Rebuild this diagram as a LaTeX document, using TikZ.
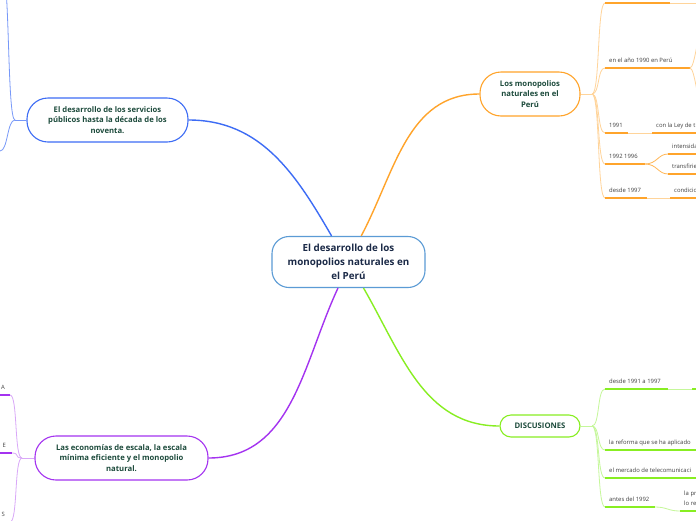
\documentclass[tikz,border=0pt]{standalone}
\usepackage{fontspec}
\setmainfont{Open Sans}
\usetikzlibrary{positioning}

\definecolor{rootline}{HTML}{5B9BD5}
\definecolor{roottext}{HTML}{1B2A47}
\definecolor{topictext}{HTML}{1D4B3C}
\definecolor{leaftext}{HTML}{404040}
\definecolor{bluelink}{HTML}{3D6CF5}
\definecolor{bluetwig}{HTML}{9DB5FA}
\definecolor{orangelink}{HTML}{FFA42B}
\definecolor{orangetwig}{HTML}{FFD49A}
\definecolor{greenlink}{HTML}{88EE22}
\definecolor{greentwig}{HTML}{C5F79A}
\definecolor{purplelink}{HTML}{A433F0}
\definecolor{purpletwig}{HTML}{D9A8F8}

\begin{document}
\begin{tikzpicture}[x=1pt,y=-1pt,
  topic/.style={draw,fill=white,line width=1.1pt,align=center,inner sep=0pt,
    text=topictext,font=\bfseries\fontsize{7.7}{10.8}\selectfont},
  leaf/.style={anchor=south west,inner xsep=4pt,inner ysep=4pt,text depth=1.2pt,
    align=left,text=leaftext,font=\fontsize{5.9}{10.5}\selectfont},
  link/.style={line width=1.4pt},
  twig/.style={line width=0.8pt},
  under/.style={line width=1.8pt}]

\useasboundingbox[fill=white] (0,0) rectangle (696,520);
\clip (0,0) rectangle (696,520);

% central topic
\node[topic,draw=rootline,text=roottext,font=\bfseries\fontsize{9.8}{14}\selectfont,
  minimum width=153pt,minimum height=51pt,rounded corners=17pt] (root) at (348.5,262)
  {El desarrollo de los\\monopolios naturales en\\el Perú};

% main topics
\node[topic,draw=bluelink,minimum width=161pt,minimum height=44pt,rounded corners=21pt]
  (serv) at (107.5,120) {El desarrollo de los servicios\\públicos hasta la década de los\\noventa.};
\node[topic,draw=orangelink,minimum width=100pt,minimum height=44pt,rounded corners=21pt]
  (mono) at (530,94) {Los monopolios\\naturales en el\\Perú};
\node[topic,draw=greenlink,minimum width=80pt,minimum height=22pt,rounded corners=11pt]
  (disc) at (540,426) {DISCUSIONES};
\node[topic,draw=purplelink,minimum width=173pt,minimum height=44pt,rounded corners=21pt]
  (econ) at (121.5,458) {Las economías de escala, la escala\\mínima eficiente y el monopolio\\natural.};

\draw[link,bluelink] (root.123) to[out=120,in=0] (serv.east);
\draw[link,orangelink] (root.64) to[out=62,in=180] (mono.west);
\draw[link,greenlink] (root.-60) to[out=-60,in=180] (disc.west);
\draw[link,purplelink] (root.-112) to[out=-115,in=0] (econ.east);

% blue branch
\coordinate (bhub) at (15,120);
\coordinate (bup) at (2,-30);
\coordinate (bdn) at (0,151);
\draw[twig,bluelink!70] (serv.west) -- (bhub);
\draw[twig,bluelink!70] (bhub) .. controls +(-8,0) and +(8,0) .. (bup);
\draw[twig,bluelink!70] (bhub) .. controls +(-8,0) and +(8,0) .. (bdn);

% orange branch
\coordinate (mhub) at (592,94);
\coordinate (oa) at (605,3);
\node[leaf] (ob) at (605,68) {en el año 1990 en Perú};
\node[leaf] (oc) at (605,133) {1991};
\node[leaf] (oc1) at (652,133) {con la Ley de t};
\node[leaf] (od) at (605,164) {1992 1996};
\node[leaf] (od1) at (668,154) {intensida};
\node[leaf] (od2) at (668,174) {transfirie};
\node[leaf] (oe) at (605,198) {desde 1997};
\node[leaf] (oe1) at (670,198) {condicio};
\coordinate (oa1) at (705,3);
\coordinate (ob1) at (703,28);
\coordinate (ob2) at (703,108);

\draw[twig,orangetwig] (mono.east) -- (mhub);
\foreach \c in {oa,ob.south west,oc.south west,od.south west,oe.south west}
  \draw[twig,orangetwig] (mhub) .. controls +(8,0) and +(-8,0) .. (\c);
\draw[under,orangelink] (oa) -- ++(65,0) coordinate (oae);
\draw[twig,orangetwig] (oae) -- (oa1);
\draw[under,orangelink] (ob.south west) -- ++(85,0) coordinate (obe);
\draw[twig,orangetwig] (obe) .. controls +(5,0) and +(-5,0) .. (ob1);
\draw[twig,orangetwig] (obe) .. controls +(5,0) and +(-5,0) .. (ob2);
\draw[under,orangelink] (oc.south west) -- ++(23,0) coordinate (oce);
\draw[twig,orangetwig] (oce) -- (oc1.south west);
\draw[under,orangelink] (oc1.south west) -- ++(60,0);
\draw[under,orangelink] (od.south west) -- ++(40,0) coordinate (ode);
\draw[twig,orangelink!80] (ode) .. controls +(12,0) and +(-10,0) .. (od1.south west);
\draw[twig,orangelink!80] (ode) .. controls +(12,0) and +(-10,0) .. (od2.south west);
\draw[under,orangelink] (od1.south west) -- ++(40,0);
\draw[under,orangelink] (od2.south west) -- ++(40,0);
\draw[under,orangelink] (oe.south west) -- ++(42,0) coordinate (oee);
\draw[twig,orangetwig] (oee) -- (oe1.south west);
\draw[under,orangelink] (oe1.south west) -- ++(50,0);

% green branch
\coordinate (ghub) at (592,426);
\node[leaf] (ga) at (605,389) {desde 1991 a 1997};
\coordinate (ga1) at (692,389);
\node[leaf] (gb) at (605,450) {la reforma que se ha aplicado};
\node[leaf] (gc) at (605,478) {el mercado de telecomunicaci};
\node[leaf] (gd) at (605,507) {antes del 1992};
\node[leaf] (gd1) at (680,511) {la pr\\lo re};

\draw[twig,greentwig] (disc.east) -- (ghub);
\foreach \c in {ga,gb,gc,gd}
  \draw[twig,greentwig] (ghub) .. controls +(8,0) and +(-8,0) .. (\c.south west);
\draw[under,greenlink] (ga.south west) -- ++(63,0) coordinate (gae);
\draw[twig,greentwig] (gae) -- (ga1);
\draw[under,greenlink] (ga1) -- ++(20,0);
\draw[under,greenlink] (gb.south west) -- ++(100,0);
\draw[under,greenlink] (gc.south west) -- ++(100,0);
\draw[under,greenlink] (gd.south west) -- ++(50,0) coordinate (gde);
\draw[twig,greentwig] (gde) .. controls +(12,0) and +(-12,0) .. (gd1.south west);
\draw[under,greenlink] (gd1.south west) -- ++(30,0);

% purple branch
\coordinate (phub) at (22,458);
\node[leaf,anchor=south east,inner xsep=5pt] (pa) at (10,395) {A};
\node[leaf,anchor=south east,inner xsep=6pt] (pb) at (12,453) {E};
\node[leaf,anchor=south east,inner xsep=5pt] (pc) at (10,522) {S};

\draw[twig,purpletwig] (econ.west) -- (phub);
\foreach \c in {pa,pb,pc}
  \draw[twig,purpletwig] (phub) .. controls +(-8,0) and +(8,0) .. (\c.south east);
\draw[under,purplelink] (pa.south east) -- ++(-30,0);
\draw[under,purplelink] (pb.south east) -- ++(-30,0);
\draw[under,purplelink] (pc.south east) -- ++(-30,0);
\end{tikzpicture}
\end{document}
